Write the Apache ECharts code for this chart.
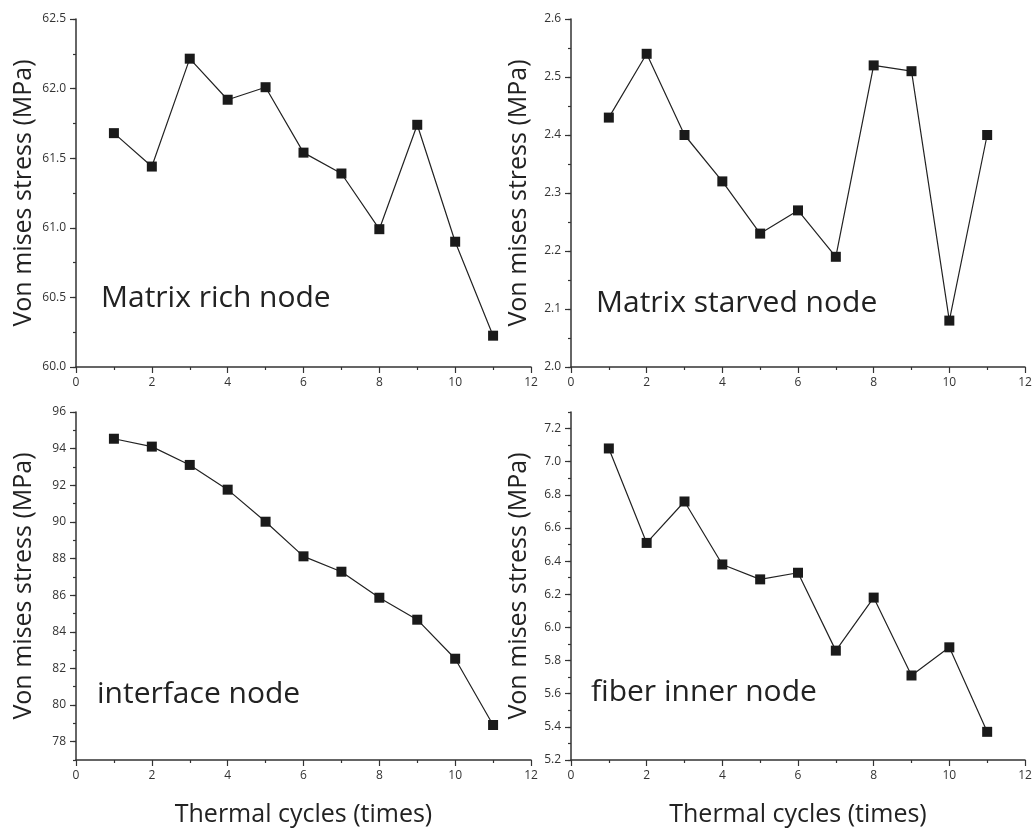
<!DOCTYPE html>
<html>
<head>
<meta charset="utf-8">
<script src="https://cdn.jsdelivr.net/npm/echarts@6/dist/echarts.min.js"></script>
<style>
  html, body { margin: 0; padding: 0; background: #fff; }
  #chart { width: 1035px; height: 828px; }
</style>
</head>
<body>
<div id="chart"></div>
<script>
// Thermal cycle number on the shared x axis
const cycles = [1, 2, 3, 4, 5, 6, 7, 8, 9, 10, 11];

// Von Mises stress (MPa) at each node type
const richNode = [61.68, 61.44, 62.215, 61.92, 62.01, 61.54, 61.39, 60.99, 61.74, 60.90, 60.225];
const starvedNode = [2.43, 2.54, 2.40, 2.32, 2.23, 2.27, 2.19, 2.52, 2.51, 2.08, 2.40];
const interfaceNode = [94.54, 94.11, 93.11, 91.76, 90.01, 88.12, 87.28, 85.86, 84.66, 82.53, 78.91];
const fiberNode = [7.08, 6.51, 6.76, 6.38, 6.29, 6.33, 5.86, 6.18, 5.71, 5.88, 5.37];

// Panel captions
const captions = ['Matrix rich node', 'Matrix starved node', 'interface node', 'fiber inner node'];

// Major tick labels of each stress axis
const richTicks = [60.0, 60.5, 61.0, 61.5, 62.0, 62.5];
const starvedTicks = [2.0, 2.1, 2.2, 2.3, 2.4, 2.5, 2.6];
const interfaceTicks = [78, 80, 82, 84, 86, 88, 90, 92, 94, 96];
const fiberTicks = [5.2, 5.4, 5.6, 5.8, 6.0, 6.2, 6.4, 6.6, 6.8, 7.0, 7.2];
const cycleTicks = [0, 2, 4, 6, 8, 10, 12];

const FONT = 'Open Sans';
const INK = '#333';

const panels = [
  { values: richNode, ticks: richTicks, min: 60, max: 62.5, minor: 0.25, digits: 1,
    grid: { left: 76, top: 19, width: 455, height: 348 }, caption: { x: 101, y: 303 } },
  { values: starvedNode, ticks: starvedTicks, min: 2.0, max: 2.6, minor: 0.05, digits: 1,
    grid: { left: 571, top: 19, width: 454, height: 348 }, caption: { x: 596, y: 308 } },
  { values: interfaceNode, ticks: interfaceTicks, min: 77, max: 96, minor: 1, digits: 0,
    grid: { left: 76, top: 412, width: 455, height: 348 }, caption: { x: 97, y: 699 } },
  { values: fiberNode, ticks: fiberTicks, min: 5.2, max: 7.3, minor: 0.1, digits: 1,
    grid: { left: 571, top: 412, width: 454, height: 348 }, caption: { x: 591, y: 697 } }
];

const isMajor = (v, ticks) => ticks.some(t => Math.abs(t - v) < 1e-6);

const grid = [], xAxis = [], yAxis = [], series = [], graphic = [];

panels.forEach((p, i) => {
  grid.push(p.grid);

  xAxis.push({
    type: 'value', gridIndex: i, min: 0, max: 12, interval: 2,
    name: i >= 2 ? 'Thermal cycles (times)' : '',
    nameLocation: 'middle', nameGap: 42,
    nameTextStyle: { fontFamily: FONT, fontSize: 25, color: '#222' },
    axisLine: { show: true, onZero: false, lineStyle: { color: INK, width: 1.5 } },
    axisTick: { show: true, length: 6, lineStyle: { color: INK, width: 1.2 } },
    minorTick: { show: true, splitNumber: 2, length: 3, lineStyle: { color: INK, width: 1.2 } },
    axisLabel: {
      fontFamily: FONT, fontSize: 12, color: INK, margin: 10,
      formatter: v => isMajor(v, cycleTicks) ? String(v) : ''
    },
    splitLine: { show: false }
  });

  // Stress axis: minor ticks and major labels
  yAxis.push({
    type: 'value', gridIndex: i, position: 'left', min: p.min, max: p.max, interval: p.minor,
    name: 'Von mises stress (MPa)', nameLocation: 'middle', nameGap: 40,
    nameTextStyle: { fontFamily: FONT, fontSize: 25, color: '#222' },
    axisLine: { show: true, onZero: false, lineStyle: { color: INK, width: 1.5 } },
    axisTick: { show: true, length: 3, lineStyle: { color: INK, width: 1.2 } },
    axisLabel: {
      fontFamily: FONT, fontSize: 12, color: INK, margin: 10, showMinLabel: true, showMaxLabel: true,
      formatter: v => isMajor(v, p.ticks) ? v.toFixed(p.digits) : ''
    },
    splitLine: { show: false }
  });
  // Longer ticks at the labelled values
  yAxis.push({
    type: 'value', gridIndex: i, position: 'left', min: p.min, max: p.max,
    axisLine: { show: false },
    axisTick: { show: true, length: 6, customValues: p.ticks, lineStyle: { color: INK, width: 1.2 } },
    axisLabel: { show: false },
    splitLine: { show: false }
  });

  series.push({
    type: 'line', xAxisIndex: i, yAxisIndex: i * 2,
    data: cycles.map((c, k) => [c, p.values[k]]),
    symbol: 'rect', symbolSize: 10,
    itemStyle: { color: '#1a1a1a' },
    lineStyle: { color: '#222', width: 1.2 },
    animation: false, silent: true
  });

  graphic.push({
    type: 'text', left: p.caption.x, top: p.caption.y - 20,
    style: { text: captions[i], fontFamily: FONT, fontSize: 30, fill: '#222' }
  });
});

const chart = echarts.init(document.getElementById('chart'));
chart.setOption({
  backgroundColor: '#fff',
  animation: false,
  grid, xAxis, yAxis, series, graphic
});
</script>
</body>
</html>
